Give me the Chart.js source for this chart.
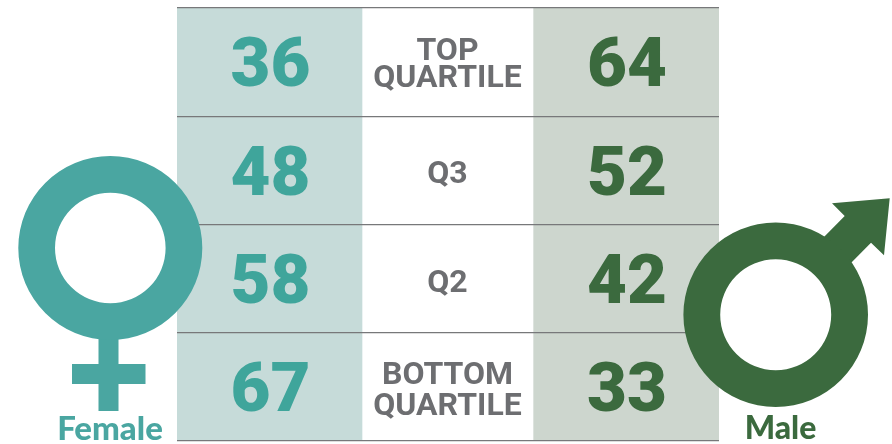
<!DOCTYPE html>
<html>
<head>
<meta charset="utf-8">
<style>
  html, body { margin: 0; padding: 0; background: #fff; }
  canvas { display: block; }
</style>
<script src="https://cdn.jsdelivr.net/npm/chart.js@4"></script>
</head>
<body>
<canvas id="quartileChart" width="892" height="444"></canvas>
<script>
// Share of each pay quartile by gender
const quartiles = [['TOP', 'QUARTILE'], ['Q3'], ['Q2'], ['BOTTOM', 'QUARTILE']];
const femaleValues = [36, 48, 58, 67];
const maleValues = [64, 52, 42, 33];
const seriesNames = ['Female', 'Male'];

// table columns are equal cells, not proportional to the values
const columnWidths = [185, 171, 186];
const cellsFor = width => quartiles.map(() => width);

const FEMALE = '#4aa6a1';
const MALE = '#3b6a3e';
const GREY = '#6d6e71';

function drawFemaleSymbol(ctx) {
    ctx.fillStyle = FEMALE;
    ctx.fillRect(98.5, 330, 20, 81);
    ctx.fillRect(72, 364, 73.5, 20);
    ctx.beginPath();
    ctx.arc(110.3, 248, 92, 0, Math.PI * 2);
    ctx.arc(110.3, 248, 55.3, 0, Math.PI * 2, true);
    ctx.fill();
}

function drawMaleSymbol(ctx) {
    ctx.fillStyle = MALE;
    ctx.beginPath();
    ctx.moveTo(889.7, 198.3);
    ctx.lineTo(832, 203.3);
    ctx.lineTo(844.7, 216);
    ctx.lineTo(820, 241);
    ctx.lineTo(847, 267);
    ctx.lineTo(871, 242.7);
    ctx.lineTo(884, 255.3);
    ctx.closePath();
    ctx.fill();
    ctx.beginPath();
    ctx.arc(775.7, 314.8, 92.3, 0, Math.PI * 2);
    ctx.arc(775.7, 314.8, 55.5, 0, Math.PI * 2, true);
    ctx.fill();
}

const tableText = {
    id: 'tableText',
    afterDraw(chart) {
        const ctx = chart.ctx;
        const y = chart.scales.y;
        const bars = i => chart.getDatasetMeta(i).data;
        ctx.save();
        ctx.textAlign = 'center';
        ctx.textBaseline = 'middle';

        quartiles.forEach((lines, i) => {
            const rowY = y.getPixelForValue(i);
            ctx.font = '900 69px Roboto';
            ctx.fillStyle = '#3fa59b';
            ctx.fillText(femaleValues[i], bars(0)[i].getCenterPoint().x + 1, rowY + 7);
            ctx.fillStyle = MALE;
            ctx.fillText(maleValues[i], bars(2)[i].getCenterPoint().x + 1, rowY + 7);

            ctx.font = '700 32px Roboto';
            ctx.fillStyle = GREY;
            const midX = bars(1)[i].getCenterPoint().x;
            // the two wrapped labels do not sit quite alike in the original
            const shift = i === 0 ? 3 : 5;
            const gap = i === 3 ? 31 : 27;
            lines.forEach((line, n) => {
                ctx.fillText(line, midX, rowY + shift + (n - (lines.length - 1) / 2) * gap);
            });
        });

        drawFemaleSymbol(ctx);
        drawMaleSymbol(ctx);

        ctx.textBaseline = 'alphabetic';
        ctx.font = '900 33px Lato';
        ctx.fillStyle = FEMALE;
        ctx.fillText(seriesNames[0], 110, 440);
        ctx.font = '900 32px Lato';
        ctx.fillStyle = MALE;
        ctx.fillText(seriesNames[1], 780.5, 439);
        ctx.restore();
    }
};

new Chart(document.getElementById('quartileChart'), {
    type: 'bar',
    data: {
        labels: quartiles,
        datasets: [
            { label: seriesNames[0], data: cellsFor(columnWidths[0]), backgroundColor: '#c6dbd9' },
            { label: 'Quartile', data: cellsFor(columnWidths[1]), backgroundColor: '#ffffff' },
            { label: seriesNames[1], data: cellsFor(columnWidths[2]), backgroundColor: '#cdd6ce' }
        ]
    },
    options: {
        indexAxis: 'y',
        responsive: false,
        animation: false,
        barPercentage: 1,
        categoryPercentage: 1,
        layout: { padding: { left: 177, right: 173, top: 8, bottom: 3 } },
        plugins: {
            legend: { display: false },
            title: { display: false },
            tooltip: { enabled: false }
        },
        scales: {
            x: {
                stacked: true,
                display: false,
                min: 0,
                max: columnWidths.reduce((a, b) => a + b, 0)
            },
            y: {
                stacked: true,
                ticks: { display: false },
                border: { display: false },
                grid: { color: '#77787a', lineWidth: 1.3, drawTicks: false, z: 1 }
            }
        }
    },
    plugins: [tableText]
});
</script>
</body>
</html>
